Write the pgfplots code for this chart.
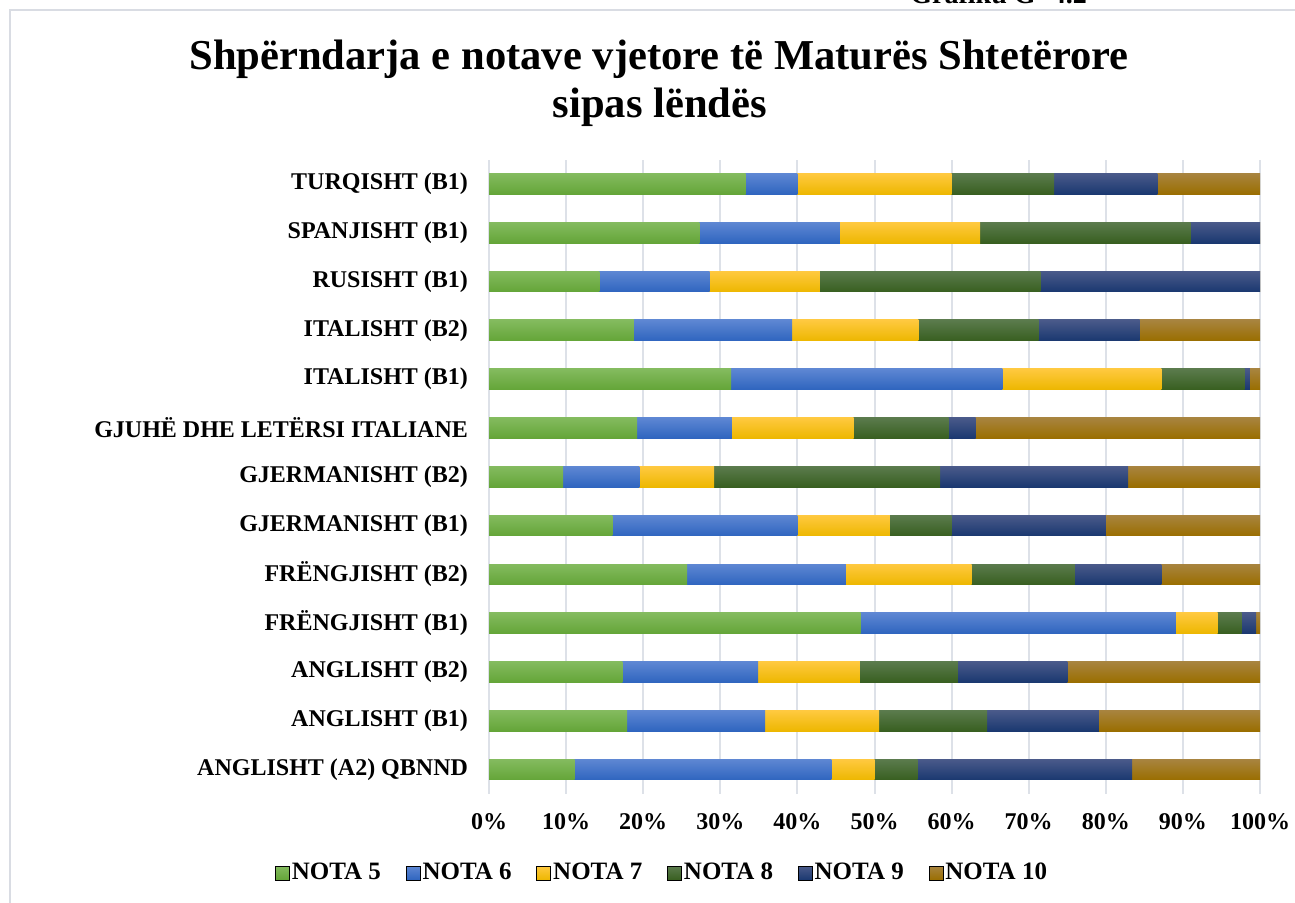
\documentclass[border=0pt]{standalone}
\usepackage{fontspec}
\setmainfont{Liberation Serif}
\usepackage{pgfplots}
\usepackage{pgfplotstable}
\pgfplotsset{compat=1.18}

\definecolor{frame}{HTML}{D9DCE3}
\definecolor{gridc}{HTML}{DDE1E8}
\definecolor{naT}{HTML}{84BB5F}\definecolor{naB}{HTML}{64A538}
\definecolor{nbT}{HTML}{5E87D3}\definecolor{nbB}{HTML}{2F65BF}
\definecolor{ncT}{HTML}{FFC940}\definecolor{ncB}{HTML}{EDB700}
\definecolor{ndT}{HTML}{5B7B4D}\definecolor{ndB}{HTML}{385F20}
\definecolor{neT}{HTML}{4A5A8A}\definecolor{neB}{HTML}{1A3870}
\definecolor{nfT}{HTML}{A8843F}\definecolor{nfB}{HTML}{9A6E00}

% rows from bottom (0) to top (12); values in percent
\pgfplotstableread{
y  n5   n6   n7   n8   n9   n10
0  11.1 33.3 5.6  5.6  27.8 16.6
1  17.9 17.9 14.8 14.0 14.5 20.9
2  17.3 17.6 13.2 12.7 14.2 25.0
3  48.2 40.9 5.4  3.1  1.9  0.5
4  25.7 20.6 16.3 13.4 11.2 12.8
5  16.0 24.0 12.0 8.0  20.0 20.0
6  9.6  9.9  9.7  29.3 24.4 17.1
7  19.2 12.3 15.8 12.3 3.5  36.9
8  31.4 35.2 20.6 10.8 0.7  1.3
9  18.8 20.5 16.4 15.6 13.1 15.6
10 14.3 14.3 14.3 28.6 28.5 0
11 27.3 18.2 18.2 27.3 9.0  0
12 33.3 6.7  20.0 13.3 13.4 13.3
}\grades

\pgfplotsset{
  rowbar/.style={forget plot, xbar, bar shift=0pt, draw=none,
    y filter/.expression={abs(y-#1)<0.1 ? y : nan}},
}

\begin{document}
\begin{tikzpicture}
\useasboundingbox (0pt,0pt) rectangle (647.5pt,451pt);
\draw[draw=frame, line width=1.2pt] (5pt,-20pt) -- (5pt,446pt) -- (680pt,446pt);
\node[anchor=base west, inner sep=0, font=\fontsize{14}{16}\selectfont\bfseries] at (455pt,449pt) {Grafiku G- 4.2};
\node[anchor=base, inner sep=0, font=\fontsize{21.3}{24}\selectfont\bfseries] at (329.5pt,416pt) {Shpërndarja e notave vjetore të Maturës Shtetërore};
\node[anchor=base, inner sep=0, font=\fontsize{21.3}{24}\selectfont\bfseries] at (330pt,392pt) {sipas lëndës};
\begin{axis}[
  at={(244.5pt,54pt)}, anchor=south west,
  scale only axis, width=385.5pt, height=317.25pt,
  xbar, bar width=0.424,
  xmin=0, xmax=100, ymin=-0.5, ymax=12.5,
  xtick={0,10,...,100},
  xticklabel={\pgfmathprintnumber{\tick}\%},
  ytick={0,...,12},
  yticklabels={{ANGLISHT (A2) QBNND},{ANGLISHT (B1)},{ANGLISHT (B2)},{FRËNGJISHT (B1)},{FRËNGJISHT (B2)},{GJERMANISHT (B1)},{GJERMANISHT (B2)},{GJUHË DHE LETËRSI ITALIANE},{ITALISHT (B1)},{ITALISHT (B2)},{RUSISHT (B1)},{SPANJISHT (B1)},{TURQISHT (B1)}},
  xmajorgrids, grid style={draw=gridc, line width=1pt},
  axis line style={draw=none}, major tick length=0pt,
  tick label style={font=\fontsize{12}{14}\selectfont\bfseries},
  /pgf/number format/assume math mode=true,
  xticklabel style={yshift=-6pt},
  yticklabel style={xshift=-7pt},
  legend image code/.code={\path[#1] (0pt,-3.5pt) rectangle (7pt,3.5pt);},
  legend columns=6,
  legend style={at={(0.2244,-0.1245)}, anchor=center, draw=none, fill=none,
    font=\fontsize{12.5}{14}\selectfont\bfseries,
    nodes={inner sep=1pt},
    /tikz/every even column/.append style={column sep=11.4pt}},
]
\pgfplotsinvokeforeach{0,...,12}{
  \addplot[rowbar=#1, top color=nfT, bottom color=nfB] table[x expr=\thisrow{n5}+\thisrow{n6}+\thisrow{n7}+\thisrow{n8}+\thisrow{n9}+\thisrow{n10}, y=y]{\grades};
  \addplot[rowbar=#1, top color=neT, bottom color=neB] table[x expr=\thisrow{n5}+\thisrow{n6}+\thisrow{n7}+\thisrow{n8}+\thisrow{n9}, y=y]{\grades};
  \addplot[rowbar=#1, top color=ndT, bottom color=ndB] table[x expr=\thisrow{n5}+\thisrow{n6}+\thisrow{n7}+\thisrow{n8}, y=y]{\grades};
  \addplot[rowbar=#1, top color=ncT, bottom color=ncB] table[x expr=\thisrow{n5}+\thisrow{n6}+\thisrow{n7}, y=y]{\grades};
  \addplot[rowbar=#1, top color=nbT, bottom color=nbB] table[x expr=\thisrow{n5}+\thisrow{n6}, y=y]{\grades};
  \addplot[rowbar=#1, top color=naT, bottom color=naB] table[x=n5, y=y]{\grades};
}
\addlegendimage{top color=naT, bottom color=naB}\addlegendentry{NOTA 5}
\addlegendimage{top color=nbT, bottom color=nbB}\addlegendentry{NOTA 6}
\addlegendimage{top color=ncT, bottom color=ncB}\addlegendentry{NOTA 7}
\addlegendimage{top color=ndT, bottom color=ndB}\addlegendentry{NOTA 8}
\addlegendimage{top color=neT, bottom color=neB}\addlegendentry{NOTA 9}
\addlegendimage{top color=nfT, bottom color=nfB}\addlegendentry{NOTA 10}
\end{axis}
\end{tikzpicture}
\end{document}
